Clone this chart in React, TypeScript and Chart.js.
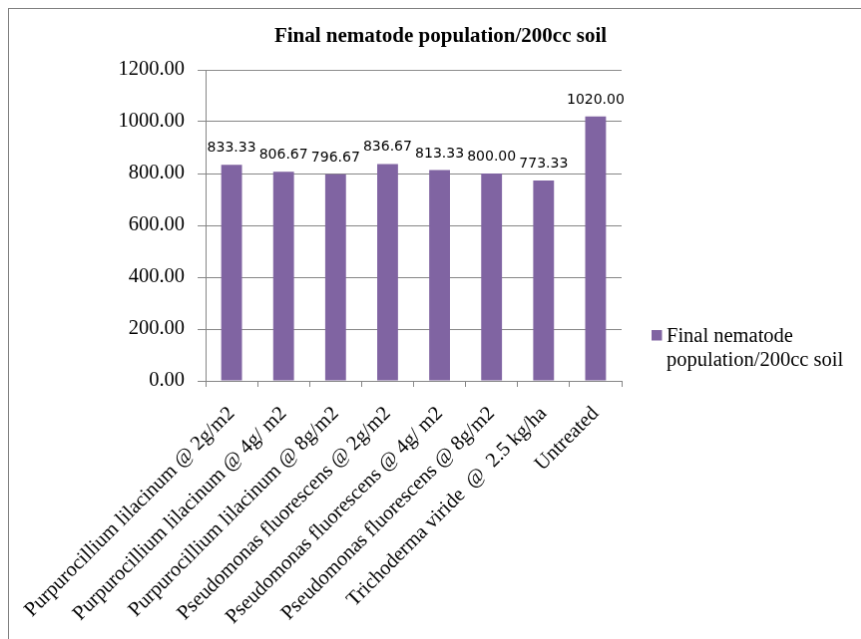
import React, { useEffect, useRef } from "react";
import { Chart, registerables } from "chart.js";

Chart.register(...registerables);

const categories = [
  "Purpurocillium lilacinum @ 2g/m2",
  "Purpurocillium lilacinum @ 4g/ m2",
  "Purpurocillium lilacinum @ 8g/m2",
  "Pseudomonas fluorescens @ 2g/m2",
  "Pseudomonas fluorescens @ 4g/ m2",
  "Pseudomonas fluorescens @ 8g/m2",
  "Trichoderma viride  @  2.5 kg/ha",
  "Untreated",
];
const values = [833.33, 806.67, 796.67, 836.67, 813.33, 800.0, 773.33, 1020.0];
const seriesName = "Final nematode population/200cc soil";
const legendLines = ["Final nematode", "population/200cc soil"];
const chartTitle = "Final nematode population/200cc soil";
const yMin = 0;
const yMax = 1200;
const yStep = 200;

const SERIF = '"Liberation Serif", "Times New Roman", serif';
const SANS = '"DejaVu Sans", sans-serif';
const GRID = "#868686";
const BAR = "#8064A2";

const CW = 865;
const CH = 648;

const labelsPlugin = {
  id: "barLabels",
  afterDatasetsDraw(chart: any) {
    const ctx = chart.ctx;
    const meta = chart.getDatasetMeta(0);
    ctx.save();
    ctx.font = `14px ${SANS}`;
    ctx.fillStyle = "#000";
    ctx.textAlign = "center";
    ctx.textBaseline = "alphabetic";
    meta.data.forEach((el: any, i: number) => {
      const v = chart.data.datasets[0].data[i] as number;
      ctx.fillText(v.toFixed(2), el.x, el.y - 13);
    });
    ctx.restore();
  },
};

const titleLegendPlugin = {
  id: "titleLegend",
  afterDraw(chart: any) {
    const ctx = chart.ctx;
    ctx.save();
    ctx.fillStyle = "#000";
    ctx.font = `bold 21px ${SERIF}`;
    ctx.textAlign = "center";
    ctx.textBaseline = "alphabetic";
    ctx.fillText(chartTitle, CW / 2, 32.5);
    // legend
    ctx.fillStyle = BAR;
    ctx.fillRect(644, 322, 10.5, 10.5);
    ctx.fillStyle = "#000";
    ctx.font = `20.5px ${SERIF}`;
    ctx.textAlign = "left";
    legendLines.forEach((t, i) => {
      ctx.fillText(t, 659, 334.3 + i * 23.4);
    });
    ctx.restore();
  },
};

export default function App() {
  const ref = useRef<HTMLCanvasElement>(null);
  useEffect(() => {
    if (!ref.current) return;
    const chart = new Chart(ref.current, {
      type: "bar",
      data: {
        labels: categories,
        datasets: [
          {
            label: seriesName,
            data: values,
            backgroundColor: BAR,
            barPercentage: 0.4,
            categoryPercentage: 1,
          },
        ],
      },
      options: {
        responsive: false,
        animation: false,
        layout: { padding: { top: 61, right: 251, left: 0, bottom: 0 } },
        plugins: {
          legend: { display: false },
          title: { display: false },
          tooltip: { enabled: false },
        },
        scales: {
          x: {
            grid: { drawOnChartArea: false, color: GRID, tickLength: 6, offset: true },
            border: { color: GRID },
            ticks: {
              color: "#000",
              font: { family: SERIF, size: 20.5 },
              minRotation: 45,
              maxRotation: 45,
              autoSkip: false,
              padding: 15,
              labelOffset: 0,
            },
            afterFit: (s: any) => {
              s.height = CH - 373;
              s.paddingLeft = 0;
              s.paddingRight = 0;
            },
          },
          y: {
            min: yMin,
            max: yMax,
            ticks: {
              stepSize: yStep,
              callback: (v: any) => Number(v).toFixed(2),
              color: "#000",
              font: { family: SERIF, size: 20.5 },
              padding: 13,
            },
            grid: { color: GRID, tickLength: 8 },
            border: { color: GRID },
            afterFit: (s: any) => {
              s.width = 197;
            },
          },
        },
      },
      plugins: [labelsPlugin, titleLegendPlugin],
    } as any);
    return () => chart.destroy();
  }, []);

  return (
    <div
      style={{
        position: "fixed",
        left: 8,
        top: 8,
        width: 853,
        height: 631,
        overflow: "hidden",
        background: "#fff",
      }}
    >
      <canvas
        ref={ref}
        width={CW}
        height={CH}
        style={{ display: "block", border: "1px solid #808080", width: CW, height: CH }}
      />
    </div>
  );
}
